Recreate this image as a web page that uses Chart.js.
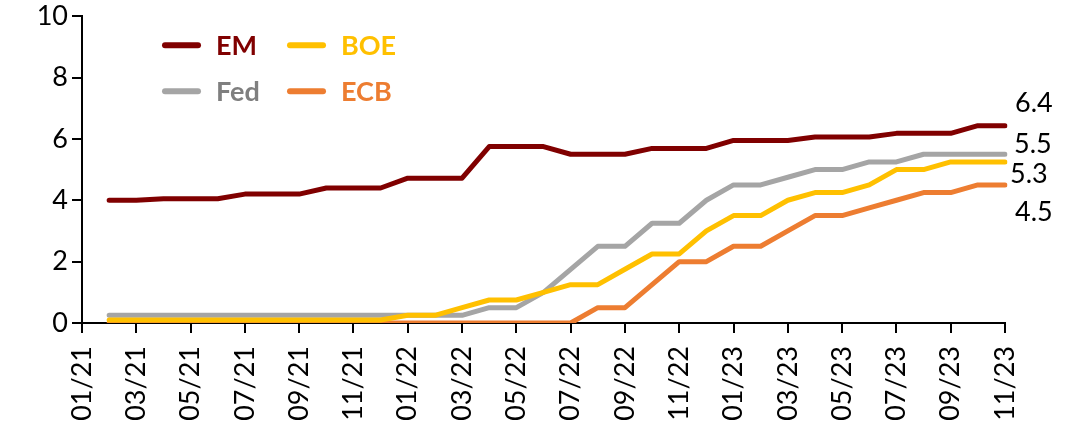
<!DOCTYPE html>
<html>
<head>
<meta charset="utf-8">
<script src="https://cdn.jsdelivr.net/npm/chart.js@4.4.1/dist/chart.umd.min.js"></script>
<style>
  body { margin: 0; background: #fff; }
  #wrap { width: 1081px; height: 428px; }
</style>
</head>
<body>
<div id="wrap"><canvas id="ratesChart" width="1081" height="428"></canvas></div>
<script>
// months on the x axis (01/21 has no value)
const months = ['01/21', '02/21', '03/21', '04/21', '05/21', '06/21', '07/21', '08/21', '09/21', '10/21', '11/21', '12/21',
                '01/22', '02/22', '03/22', '04/22', '05/22', '06/22', '07/22', '08/22', '09/22', '10/22', '11/22', '12/22',
                '01/23', '02/23', '03/23', '04/23', '05/23', '06/23', '07/23', '08/23', '09/23', '10/23', '11/23'];

// policy rates, %, from 02/21
const emRate  = [4.0, 4.0, 4.05, 4.05, 4.05, 4.2, 4.2, 4.2, 4.4, 4.4, 4.4,
                 4.72, 4.72, 4.72, 5.75, 5.75, 5.75, 5.5, 5.5, 5.5, 5.69, 5.69, 5.69,
                 5.95, 5.95, 5.95, 6.06, 6.06, 6.06, 6.18, 6.18, 6.18, 6.43, 6.43];
const fedRate = [0.25, 0.25, 0.25, 0.25, 0.25, 0.25, 0.25, 0.25, 0.25, 0.25, 0.25,
                 0.25, 0.25, 0.25, 0.5, 0.5, 1.0, 1.75, 2.5, 2.5, 3.25, 3.25, 4.0,
                 4.5, 4.5, 4.75, 5.0, 5.0, 5.25, 5.25, 5.5, 5.5, 5.5, 5.5];
const boeRate = [0.1, 0.1, 0.1, 0.1, 0.1, 0.1, 0.1, 0.1, 0.1, 0.1, 0.1,
                 0.25, 0.25, 0.5, 0.75, 0.75, 1.0, 1.25, 1.25, 1.75, 2.25, 2.25, 3.0,
                 3.5, 3.5, 4.0, 4.25, 4.25, 4.5, 5.0, 5.0, 5.25, 5.25, 5.25];
const ecbRate = [0, 0, 0, 0, 0, 0, 0, 0, 0, 0, 0,
                 0, 0, 0, 0, 0, 0, 0, 0.5, 0.5, 1.25, 2.0, 2.0,
                 2.5, 2.5, 3.0, 3.5, 3.5, 3.75, 4.0, 4.25, 4.25, 4.5, 4.5];

const seriesNames = ['EM', 'Fed', 'BOE', 'ECB'];
const lineColors = ['#800000', '#A5A5A5', '#FFC000', '#ED7D31'];
const legendTextColors = ['#800000', '#7F7F7F', '#FFC000', '#ED7D31'];
const drawOrder = [4, 2, 1, 3];

// legend slots (column, row) and end label nudges (dx, dy)
const legendSlots = [[0, 0], [0, 1], [1, 0], [1, 1]];
const endLabelNudge = [[10, -22], [9, -10], [5, 12], [10, 27]];

const FONT = 'Lato, "Open Sans", sans-serif';

function withGap(values) {
    return [null].concat(values);
}

const allSeries = [emRate, fedRate, boeRate, ecbRate];

const datasets = allSeries.map((vals, i) => ({
    label: seriesNames[i],
    data: withGap(vals),
    borderColor: lineColors[i],
    backgroundColor: lineColors[i],
    borderWidth: 5,
    pointRadius: 0,
    tension: 0,
    borderCapStyle: 'round',
    borderJoinStyle: 'round',
    order: drawOrder[i]
}));

// legend inside the plot, two columns
const insideLegend = {
    id: 'insideLegend',
    afterDraw(chart) {
        const ctx = chart.ctx;
        const area = chart.chartArea;
        ctx.save();
        ctx.font = 'bold 27px ' + FONT;
        ctx.textBaseline = 'middle';
        ctx.lineCap = 'round';
        ctx.lineWidth = 6;
        seriesNames.forEach((name, i) => {
            const x0 = area.left + 83 + legendSlots[i][0] * 125;
            const y0 = area.top + 29 + legendSlots[i][1] * 46;
            ctx.strokeStyle = lineColors[i];
            ctx.beginPath();
            ctx.moveTo(x0, y0);
            ctx.lineTo(x0 + 33, y0);
            ctx.stroke();
            ctx.fillStyle = legendTextColors[i];
            ctx.fillText(name, x0 + 51, y0 + 1);
        });
        ctx.restore();
    }
};

// latest values written to the right of each line
const endLabels = {
    id: 'endLabels',
    afterDatasetsDraw(chart) {
        const ctx = chart.ctx;
        ctx.save();
        ctx.font = '27px ' + FONT;
        ctx.fillStyle = '#000';
        ctx.textBaseline = 'middle';
        ctx.textAlign = 'left';
        chart.data.datasets.forEach((ds, i) => {
            const meta = chart.getDatasetMeta(i);
            const last = meta.data[meta.data.length - 1];
            const val = ds.data[ds.data.length - 1];
            ctx.fillText(val.toFixed(1), last.x + endLabelNudge[i][0], last.y + endLabelNudge[i][1]);
        });
        ctx.restore();
    }
};

const chart = new Chart(document.getElementById('ratesChart'), {
    type: 'line',
    data: { labels: months, datasets: datasets },
    options: {
        responsive: false,
        animation: false,
        layout: { padding: { top: 15, right: 76, left: 0, bottom: 0 } },
        plugins: {
            legend: { display: false },
            tooltip: { enabled: false }
        },
        scales: {
            x: {
                offset: false,
                border: { color: '#000', width: 2 },
                grid: {
                    drawOnChartArea: false,
                    tickLength: 10,
                    lineWidth: 2,
                    color: (c) => (c.index % 2 === 0 ? '#000' : 'rgba(0,0,0,0)')
                },
                ticks: {
                    autoSkip: false,
                    maxRotation: 90,
                    minRotation: 90,
                    padding: 13,
                    color: '#000',
                    font: { family: FONT, size: 27 },
                    callback: function (value, index) {
                        return index % 2 === 0 ? this.getLabelForValue(value) : '';
                    }
                },
                afterFit: (scale) => { scale.height = 105; }
            },
            y: {
                min: 0,
                max: 10,
                border: { color: '#000', width: 2 },
                grid: {
                    drawOnChartArea: false,
                    tickLength: 10,
                    lineWidth: 2,
                    color: '#000'
                },
                ticks: {
                    stepSize: 2,
                    padding: 4,
                    color: '#000',
                    font: { family: FONT, size: 27, lineHeight: 0.9 }
                },
                afterFit: (scale) => { scale.width = 82; }
            }
        }
    },
    plugins: [insideLegend, endLabels]
});
</script>
</body>
</html>
